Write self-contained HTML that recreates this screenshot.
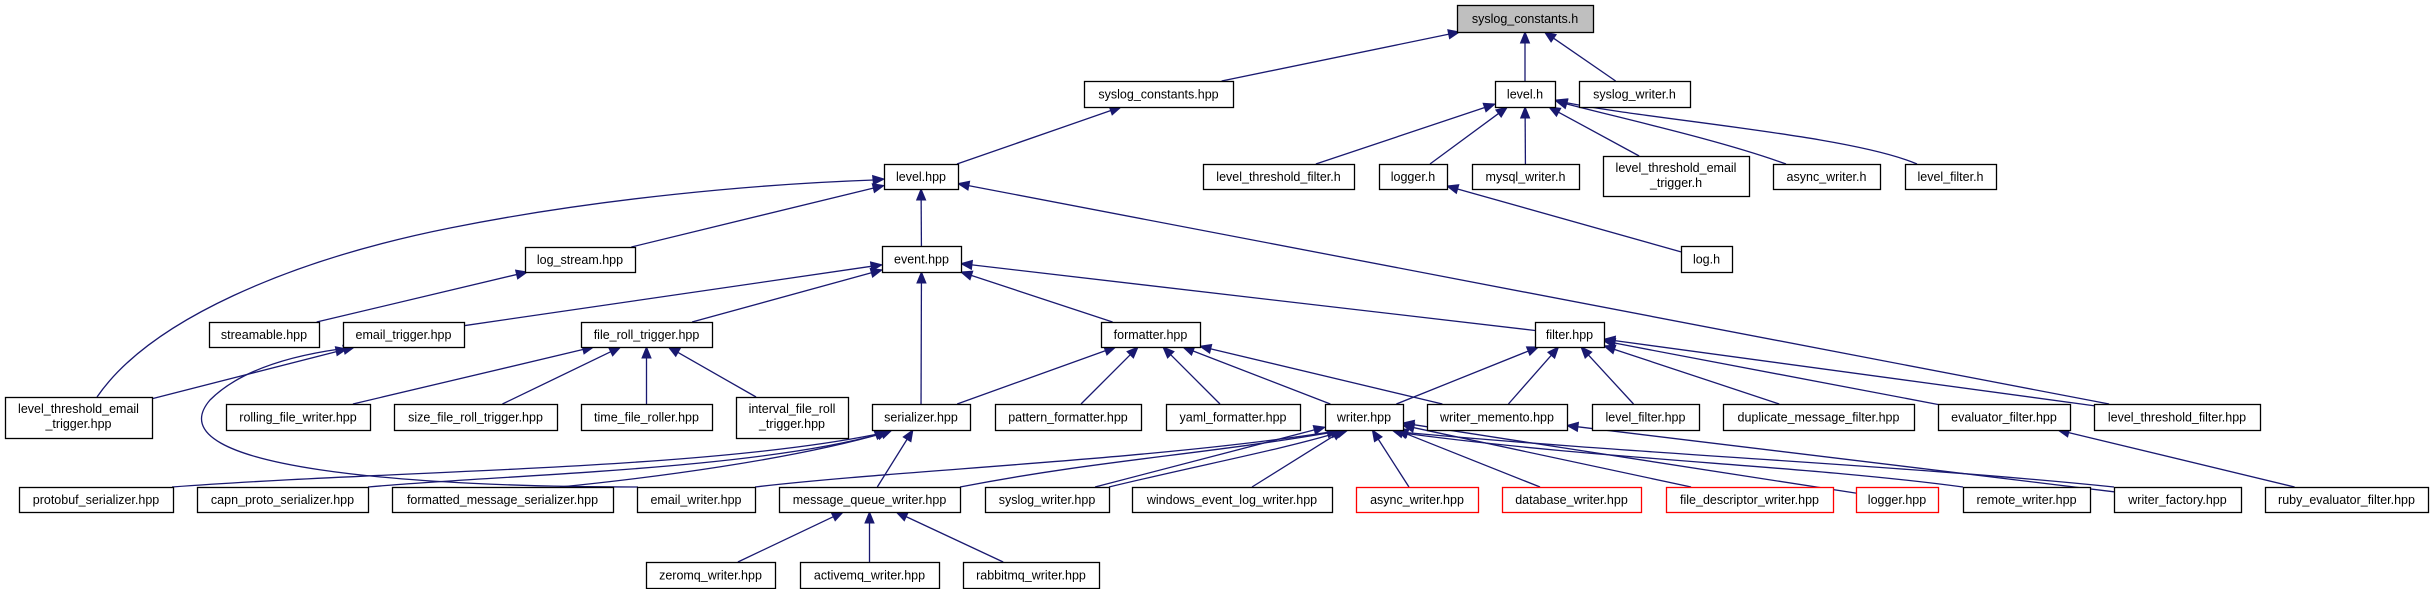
<!DOCTYPE html>
<html><head><meta charset="utf-8">
<style>
html,body{margin:0;padding:0;background:#fff;width:2434px;height:589px;overflow:hidden}
svg{display:block}
text{font-family:"Liberation Sans",Arial,sans-serif;font-size:12.5px;fill:#000}
</style></head>
<body>
<svg id="g" width="2434" height="589" viewBox="0 0 2434 589" xmlns="http://www.w3.org/2000/svg"></svg>
<script>
var N={
sch:[1457,5,1593,32,["syslog_constants.h"],0,1],
schpp:[1084,81,1233,107,["syslog_constants.hpp"]],
levelh:[1495,81,1555,107,["level.h"]],
swh:[1579,81,1690,107,["syslog_writer.h"]],
levelhpp:[884,164,958,189,["level.hpp"]],
ltfh:[1203,164,1354,189,["level_threshold_filter.h"]],
loggerh:[1379,164,1447,189,["logger.h"]],
mysql:[1472,164,1579,189,["mysql_writer.h"]],
ltefh:[1603,156,1749,196,["level_threshold_email","_trigger.h"]],
asynch:[1773,164,1880,189,["async_writer.h"]],
lfh:[1905,164,1996,189,["level_filter.h"]],
logh:[1681,246,1732,272,["log.h"]],
logstream:[525,247,635,272,["log_stream.hpp"]],
event:[882,246,961,272,["event.hpp"]],
streamable:[209,322,319,347,["streamable.hpp"]],
emailtrig:[343,322,464,347,["email_trigger.hpp"]],
frt:[581,322,712,347,["file_roll_trigger.hpp"]],
formatter:[1101,322,1200,347,["formatter.hpp"]],
filter:[1535,322,1604,347,["filter.hpp"]],
ltet:[5,397,152,438,["level_threshold_email","_trigger.hpp"]],
rfw:[226,404,370,430,["rolling_file_writer.hpp"]],
sfrt:[394,404,557,430,["size_file_roll_trigger.hpp"]],
tfr:[581,404,712,430,["time_file_roller.hpp"]],
ifrt:[736,397,848,438,["interval_file_roll","_trigger.hpp"]],
serializer:[872,404,970,430,["serializer.hpp"]],
pattern:[995,404,1141,430,["pattern_formatter.hpp"]],
yaml:[1166,404,1300,430,["yaml_formatter.hpp"]],
writer:[1325,404,1403,430,["writer.hpp"]],
memento:[1427,404,1567,430,["writer_memento.hpp"]],
lfhpp:[1592,404,1699,430,["level_filter.hpp"]],
dup:[1723,404,1914,430,["duplicate_message_filter.hpp"]],
evalf:[1938,404,2070,430,["evaluator_filter.hpp"]],
ltfhpp:[2094,404,2260,430,["level_threshold_filter.hpp"]],
proto:[19,487,173,512,["protobuf_serializer.hpp"]],
capn:[197,487,368,512,["capn_proto_serializer.hpp"]],
fms:[392,487,613,512,["formatted_message_serializer.hpp"]],
emailw:[637,487,755,512,["email_writer.hpp"]],
mqw:[779,487,960,512,["message_queue_writer.hpp"]],
sw:[985,487,1109,512,["syslog_writer.hpp"]],
wel:[1132,487,1332,512,["windows_event_log_writer.hpp"]],
aw:[1356,487,1478,512,["async_writer.hpp"],1],
dbw:[1502,487,1641,512,["database_writer.hpp"],1],
fdw:[1666,487,1833,512,["file_descriptor_writer.hpp"],1],
lghpp:[1856,487,1938,512,["logger.hpp"],1],
rw:[1963,487,2090,512,["remote_writer.hpp"]],
wf:[2114,487,2241,512,["writer_factory.hpp"]],
ruby:[2265,487,2428,512,["ruby_evaluator_filter.hpp"]],
zmq:[646,562,775,588,["zeromq_writer.hpp"]],
amq:[800,562,939,588,["activemq_writer.hpp"]],
rmq:[963,562,1099,588,["rabbitmq_writer.hpp"]]
};
var E=[
["schpp","sch"],["levelh","sch"],["swh","sch"],["levelhpp","schpp"],
["ltfh","levelh"],["loggerh","levelh"],["mysql","levelh"],["ltefh","levelh"],
["logh","loggerh"],["logstream","levelhpp"],["event","levelhpp"],["ltfhpp","levelhpp"],
["streamable","logstream"],["emailtrig","event"],["frt","event"],["formatter","event"],["filter","event"],["serializer","event"],
["ltet","emailtrig"],["rfw","frt"],["sfrt","frt"],["tfr","frt"],["ifrt","frt"],
["serializer","formatter"],["pattern","formatter"],["yaml","formatter"],["writer","formatter"],["memento","formatter"],
["writer","filter"],["memento","filter"],["lfhpp","filter"],["dup","filter"],["evalf","filter"],["ltfhpp","filter"],
["mqw","serializer"],
["sw","writer"],["wel","writer"],["aw","writer"],["dbw","writer"],["fdw","writer"],["lghpp","writer"],
["wf","memento"],["ruby","evalf"],["zmq","mqw"],["amq","mqw"],["rmq","mqw"]
];
// custom curves: [path, tipX, tipY, fromX, fromY]
var C=[
["M97,397 C150,320 290,260 450,228 C600,198 760,184 874,180",884,179,874,180],
["M638,487 C420,487 150,470 210,400 C240,370 290,356 340,349",347,349,337,351],
["M172,487 C400,470 700,470 878,434",886,431,876,435],
["M368,487 C500,475 750,470 880,434",888,431,878,435],
["M560,487 C650,478 790,460 884,433",892,430,882,434],
["M755,487 C900,470 1150,460 1330,432",1338,430,1328,433],
["M960,487 C1100,460 1200,455 1334,432",1342,430,1332,433],
["M1109,487 C1200,465 1280,450 1340,432",1348,430,1338,433],
["M1963,487 C1800,465 1600,460 1395,432",1392,430,1402,433],
["M2114,487 C1900,465 1650,455 1400,432",1397,430,1407,433],
["M1786,164 C1720,140 1620,118 1563,103",1556,101,1566,104],
["M1917,164 C1850,135 1650,120 1563,102",1556,100,1566,103]
];
var s=document.getElementById('g'),h='';
function cen(n){return [(n[0]+n[2])/2,(n[1]+n[3])/2];}
function clip(n,p,q){
 var dx=q[0]-p[0],dy=q[1]-p[1],t=1;
 var hw=(n[2]-n[0])/2,hh=(n[3]-n[1])/2;
 if(dx!==0)t=Math.min(t,hw/Math.abs(dx));
 if(dy!==0)t=Math.min(t,hh/Math.abs(dy));
 return [p[0]+dx*t,p[1]+dy*t];}
function arrow(tx,ty,fx,fy){
 var dx=tx-fx,dy=ty-fy,l=Math.sqrt(dx*dx+dy*dy);dx/=l;dy/=l;
 var L=11,W=4.5,bx=tx-dx*L,by=ty-dy*L;
 return '<polygon points="'+tx+','+ty+' '+(bx-dy*W)+','+(by+dx*W)+' '+(bx+dy*W)+','+(by-dx*W)+'" fill="#191970" stroke="#191970" stroke-width="1"/>';}
E.forEach(function(e){
 var a=N[e[0]],b=N[e[1]],ca=cen(a),cb=cen(b);
 var p=clip(a,ca,cb),q=clip(b,cb,ca);
 var dx=q[0]-p[0],dy=q[1]-p[1],l=Math.sqrt(dx*dx+dy*dy);
 var ex=q[0]-dx/l*10,ey=q[1]-dy/l*10;
 h+='<line x1="'+p[0]+'" y1="'+p[1]+'" x2="'+ex+'" y2="'+ey+'" stroke="#191970" stroke-width="1.3"/>';
 h+=arrow(q[0],q[1],p[0],p[1]);
});
C.forEach(function(c){
 h+='<path d="'+c[0]+'" fill="none" stroke="#191970" stroke-width="1.3"/>';
 h+=arrow(c[1],c[2],c[3],c[4]);
});
for(var k in N){var n=N[k];
 var fill=n[6]?'#bfbfbf':'#fff',st=n[5]?'#ff0000':'#000';
 h+='<rect x="'+(n[0]+0.5)+'" y="'+(n[1]+0.5)+'" width="'+(n[2]-n[0])+'" height="'+(n[3]-n[1])+'" fill="'+fill+'" stroke="'+st+'" stroke-width="1.3"/>';
 var cx=(n[0]+n[2])/2,lines=n[4];
 if(lines.length==1){h+='<text x="'+cx+'" y="'+((n[1]+n[3])/2+4.5)+'" text-anchor="middle">'+lines[0]+'</text>';}
 else{h+='<text x="'+cx+'" y="'+(n[1]+16)+'" text-anchor="middle">'+lines[0]+'</text>';
      h+='<text x="'+cx+'" y="'+(n[1]+31)+'" text-anchor="middle">'+lines[1]+'</text>';}
}
s.innerHTML=h;
</script>
</body></html>
